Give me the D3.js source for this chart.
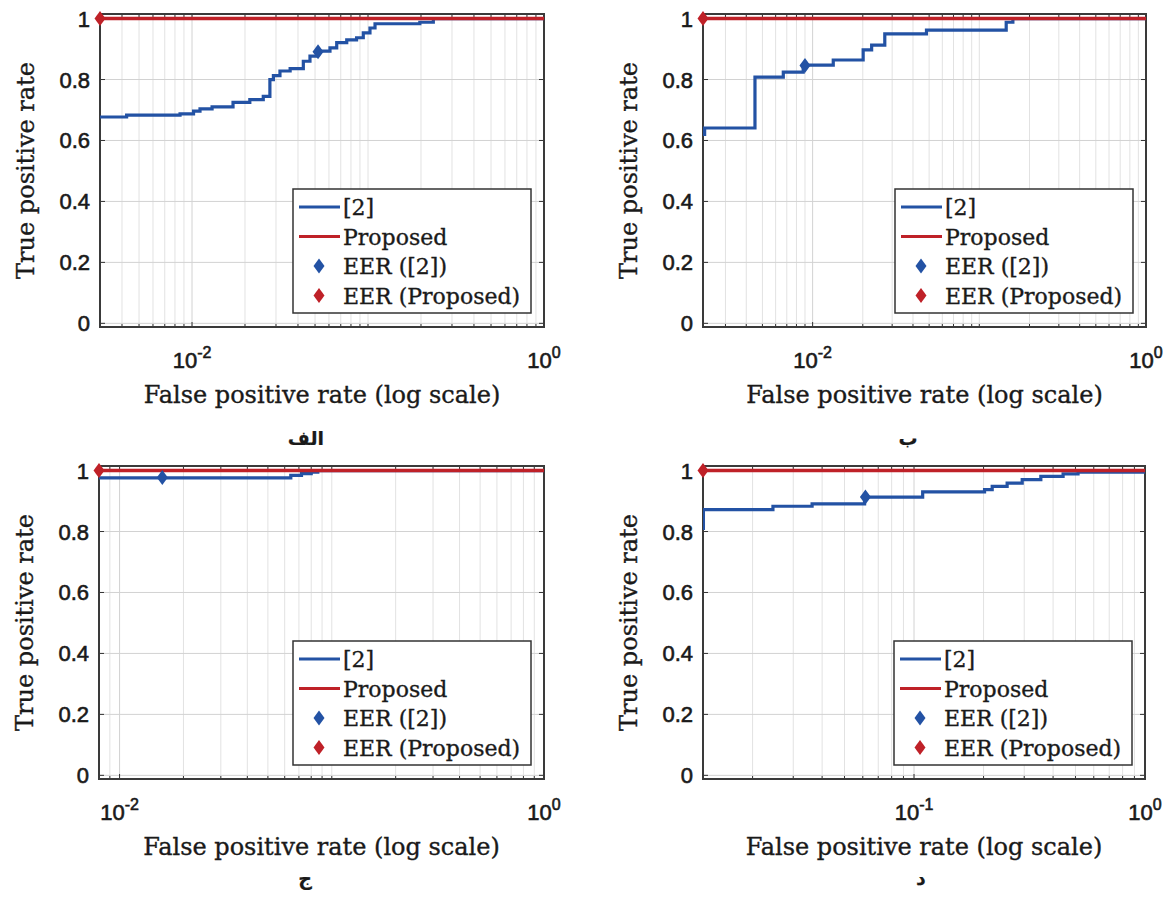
<!DOCTYPE html>
<html>
<head>
<meta charset="utf-8">
<script src="https://cdn.jsdelivr.net/npm/d3@7"></script>
<style>
  html, body { margin: 0; padding: 0; background: #fff; }
  svg { display: block; }
</style>
</head>
<body>
<svg id="fig" width="1167" height="901"></svg>
<script>
// ---- Data: ROC step points [false positive rate, true positive rate] ----
// Method [2], one array per sub-figure
const rocRef2Alef = [
  [0.003, 0.677], [0.00425, 0.683], [0.00855, 0.687], [0.0102, 0.696], [0.0111, 0.704],
  [0.0130, 0.710], [0.0171, 0.725], [0.0213, 0.734], [0.0254, 0.745], [0.0277, 0.800],
  [0.0290, 0.813], [0.0316, 0.828], [0.0361, 0.836], [0.0429, 0.860], [0.0468, 0.877],
  [0.0511, 0.893], [0.0608, 0.904], [0.0664, 0.921], [0.0757, 0.930], [0.0861, 0.937],
  [0.0940, 0.953], [0.1026, 0.969], [0.1096, 0.983], [0.197, 0.988], [0.235, 1.0], [1, 1.0]
];
const rocRef2Be = [
  [0.0022, 0.620], [0.00225, 0.641], [0.00451, 0.808], [0.00667, 0.824], [0.00878, 0.847],
  [0.0133, 0.864], [0.0201, 0.897], [0.0226, 0.913], [0.0271, 0.950], [0.0482, 0.962],
  [0.145, 0.988], [0.159, 1.0], [1, 1.0]
];
const rocRef2Jim = [
  [0.008, 0.976], [0.0641, 0.984], [0.072, 0.990], [0.080, 0.995], [0.0859, 1.0], [1, 1.0]
];
const rocRef2Dal = [
  [0.0122, 0.810], [0.01225, 0.872], [0.0245, 0.883], [0.0362, 0.891], [0.0611, 0.913],
  [0.109, 0.930], [0.202, 0.9375], [0.218, 0.948], [0.253, 0.959], [0.294, 0.970],
  [0.354, 0.981], [0.442, 0.989], [0.513, 0.995], [1, 0.995]
];

// Proposed method
const rocProposedAlef = [[0.003, 1], [1, 1]];
const rocProposedBe   = [[0.0022, 1], [1, 1]];
const rocProposedJim  = [[0.008, 1], [1, 1]];
const rocProposedDal  = [[0.0122, 1], [1, 1]];

// Equal error rate operating points
const eerRef2     = [[0.052, 0.891], [0.0090, 0.846], [0.0159, 0.977], [0.0616, 0.913]];
const eerProposed = [[0.003, 1], [0.0022, 1], [0.008, 1], [0.0122, 1]];

// Axis settings
const fprMin = [0.003, 0.0022, 0.008, 0.0122];
const xTickExponents = [[-2, 0], [-2, 0], [-2, 0], [-1, 0]];
const yTicks = [0, 0.2, 0.4, 0.6, 0.8, 1];
const yDomain = [-0.012, 1.015];

// Text
const captions = ["الف", "ب", "ج", "د"];
const legendLabels = ["[2]", "Proposed", "EER ([2])", "EER (Proposed)"];
const xTitle = "False positive rate (log scale)";
const yTitle = "True positive rate";

// ---- Layout ----
const frames = [
  { left: 100, right: 544, top: 14,  bottom: 327, capX: 306, capY: 445 },
  { left: 703, right: 1146, top: 14, bottom: 327, capX: 908, capY: 445 },
  { left: 99,  right: 544, top: 466, bottom: 779, capX: 305, capY: 885 },
  { left: 703, right: 1145, top: 466, bottom: 779, capX: 921, capY: 885 }
];
const rocRef2 = [rocRef2Alef, rocRef2Be, rocRef2Jim, rocRef2Dal];
const rocProposed = [rocProposedAlef, rocProposedBe, rocProposedJim, rocProposedDal];

const BLUE = "#2352a4";
const RED = "#bf2128";
const INK = "#1a1a1a";
const SERIF = "'DejaVu Serif', serif";
const SANS = "'Liberation Sans', Arial, sans-serif";

const svg = d3.select("#fig");
svg.append("rect").attr("width", 1167).attr("height", 901).attr("fill", "#fff");

const diamond = "M0,-7.5L5.5,0L0,7.5L-5.5,0Z";

// slightly heavier text strokes
function ink(sel, w) {
  return sel.attr("fill", INK).attr("stroke", INK).attr("stroke-width", w);
}

frames.forEach((f, i) => {
  const x = d3.scaleLog().domain([fprMin[i], 1]).range([f.left, f.right]);
  const y = d3.scaleLinear().domain(yDomain).range([f.bottom, f.top]);
  const g = svg.append("g");

  // tick positions on the log axis
  const majors = xTickExponents[i].map(e => Math.pow(10, e));
  const minors = [];
  for (let n = Math.floor(Math.log10(fprMin[i])); n < 0; n++) {
    for (let k = 1; k <= 9; k++) {
      const v = k * Math.pow(10, n);
      if (v >= fprMin[i] * 0.999 && v <= 1 && !majors.some(m => Math.abs(m - v) < 1e-12)) minors.push(v);
    }
  }

  // grid
  g.append("g").selectAll("line").data(minors).join("line")
    .attr("x1", d => x(d)).attr("x2", d => x(d))
    .attr("y1", f.top).attr("y2", f.bottom)
    .attr("stroke", "#e2e2e2").attr("stroke-width", 1);
  g.append("g").selectAll("line").data(majors).join("line")
    .attr("x1", d => x(d)).attr("x2", d => x(d))
    .attr("y1", f.top).attr("y2", f.bottom)
    .attr("stroke", "#d2d2d2").attr("stroke-width", 1);
  g.append("g").selectAll("line").data(yTicks).join("line")
    .attr("x1", f.left).attr("x2", f.right)
    .attr("y1", d => y(d)).attr("y2", d => y(d))
    .attr("stroke", "#d2d2d2").attr("stroke-width", 1);

  // inward tick marks on all four sides
  const tk = g.append("g").attr("stroke", "#333").attr("stroke-width", 1);
  minors.forEach(v => {
    tk.append("line").attr("x1", x(v)).attr("x2", x(v)).attr("y1", f.bottom).attr("y2", f.bottom - 3);
    tk.append("line").attr("x1", x(v)).attr("x2", x(v)).attr("y1", f.top).attr("y2", f.top + 3);
  });
  majors.forEach(v => {
    tk.append("line").attr("x1", x(v)).attr("x2", x(v)).attr("y1", f.bottom).attr("y2", f.bottom - 5);
    tk.append("line").attr("x1", x(v)).attr("x2", x(v)).attr("y1", f.top).attr("y2", f.top + 5);
  });
  yTicks.forEach(v => {
    tk.append("line").attr("x1", f.left).attr("x2", f.left + 5).attr("y1", y(v)).attr("y2", y(v));
    tk.append("line").attr("x1", f.right).attr("x2", f.right - 5).attr("y1", y(v)).attr("y2", y(v));
  });

  // axes box
  g.append("rect")
    .attr("x", f.left).attr("y", f.top)
    .attr("width", f.right - f.left).attr("height", f.bottom - f.top)
    .attr("fill", "none").attr("stroke", "#3a3a3a").attr("stroke-width", 2);

  // curves
  const clipId = "clip" + i;
  svg.append("clipPath").attr("id", clipId).append("rect")
    .attr("x", f.left).attr("y", f.top - 2)
    .attr("width", f.right - f.left).attr("height", f.bottom - f.top + 4);
  const line = d3.line().x(d => x(d[0])).y(d => y(d[1])).curve(d3.curveStepAfter);
  const plot = g.append("g").attr("clip-path", `url(#${clipId})`);
  plot.append("path").datum(rocRef2[i]).attr("d", line)
    .attr("fill", "none").attr("stroke", BLUE).attr("stroke-width", 3.2)
    .attr("stroke-linejoin", "miter");
  plot.append("path").datum(rocProposed[i]).attr("d", line)
    .attr("fill", "none").attr("stroke", RED).attr("stroke-width", 3.6);

  // EER markers
  g.append("path").attr("d", diamond)
    .attr("transform", `translate(${x(eerRef2[i][0])},${y(eerRef2[i][1])})`)
    .attr("fill", BLUE);
  g.append("path").attr("d", diamond)
    .attr("transform", `translate(${x(eerProposed[i][0])},${y(eerProposed[i][1])})`)
    .attr("fill", RED);

  // y tick labels
  ink(g.append("g").selectAll("text").data(yTicks).join("text")
    .attr("x", f.left - 10).attr("y", d => y(d) + 8)
    .attr("text-anchor", "end")
    .attr("font-family", SANS).attr("font-size", 22), 0.6)
    .text(d => String(d));

  // x tick labels (10^n)
  xTickExponents[i].forEach(e => {
    const t = ink(g.append("text")
      .attr("x", x(Math.pow(10, e))).attr("y", f.bottom + 41)
      .attr("text-anchor", "middle")
      .attr("font-family", SANS).attr("font-size", 22), 0.6);
    t.append("tspan").text("10");
    t.append("tspan").attr("dy", -10).attr("font-size", 16).text(String(e));
  });

  // axis titles
  ink(g.append("text")
    .attr("x", (f.left + f.right) / 2).attr("y", f.bottom + 76)
    .attr("text-anchor", "middle")
    .attr("font-family", SERIF).attr("font-size", 24), 0.35)
    .text(xTitle);
  ink(g.append("text")
    .attr("transform", `translate(${f.left - 66},${(f.top + f.bottom) / 2}) rotate(-90)`)
    .attr("text-anchor", "middle")
    .attr("font-family", SERIF).attr("font-size", 24), 0.35)
    .text(yTitle);

  // legend (south-east inside the axes)
  const lw = 238, lh = 124;
  const lx = f.right - 13 - lw, ly = f.bottom - 14 - lh;
  const lg = g.append("g").attr("transform", `translate(${lx},${ly})`);
  lg.append("rect").attr("width", lw).attr("height", lh)
    .attr("fill", "#fff").attr("stroke", "#333").attr("stroke-width", 1.5);
  const rowY = k => 18 + k * 29.5;
  lg.append("line").attr("x1", 6).attr("x2", 47).attr("y1", rowY(0)).attr("y2", rowY(0))
    .attr("stroke", BLUE).attr("stroke-width", 3.2);
  lg.append("line").attr("x1", 6).attr("x2", 47).attr("y1", rowY(1)).attr("y2", rowY(1))
    .attr("stroke", RED).attr("stroke-width", 3);
  lg.append("path").attr("d", diamond).attr("transform", `translate(26,${rowY(2)})`).attr("fill", BLUE);
  lg.append("path").attr("d", diamond).attr("transform", `translate(26,${rowY(3)})`).attr("fill", RED);
  ink(lg.selectAll("text.lab").data(legendLabels).join("text")
    .attr("class", "lab")
    .attr("x", 50).attr("y", (d, k) => rowY(k) + 8)
    .attr("font-family", SERIF).attr("font-size", 22), 0.35)
    .text(d => d);

  // sub-figure caption
  ink(svg.append("text")
    .attr("x", f.capX).attr("y", f.capY)
    .attr("text-anchor", "middle")
    .attr("font-family", "'DejaVu Sans', sans-serif").attr("font-weight", "bold")
    .attr("font-size", 19), 0.2)
    .text(captions[i]);
});
</script>
</body>
</html>
